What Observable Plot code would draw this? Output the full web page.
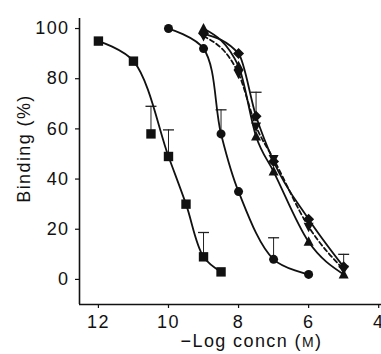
<!DOCTYPE html>
<html><head><meta charset="utf-8">
<script src="https://cdn.jsdelivr.net/npm/d3@7"></script>
<script src="https://cdn.jsdelivr.net/npm/@observablehq/plot@0.6"></script>
<style>body{margin:0;background:#fff}</style>
</head><body><div id="chart"></div>
<script>
// -log concentration (x) and % binding (y)
const squareX = [12, 11, 10, 9.5, 9, 8.5];
const squareY = [95, 87, 49, 30, 9, 3];
const squareOutX = [10.5];
const squareOutY = [58];
const circleX = [10, 9, 8.5, 8, 7, 6];
const circleY = [100, 92, 58, 35, 8, 2];
const groupX = [9, 8, 7.5, 7, 6, 5];
const diamondY = [98, 90, 65, 47, 24, 5];
const triangleY = [100, 85, 57, 43, 15, 2];
const invTriangleY = [97, 82, 61, 48, 21, 4];
// upward error bars
const errX = [10.5, 10, 9, 8.5, 7, 7.5, 5];
const errLow = [58, 49, 9, 58, 8, 65, 5];
const errHigh = [69, 59.6, 18.7, 67.6, 16.6, 74.6, 10];
const xTicks = [12, 10, 8, 6, 4];
const yTicks = [0, 20, 40, 60, 80, 100];
const xDomain = [12.54, 3.92];
const yDomain = [-10, 104];
const yLabel = "Binding (%)";
const xLabel = "\u2212Log concn (M)";

const toPts = (xs, ys) => xs.map((x, i) => ({x, y: ys[i]}));
const squares = toPts(squareX, squareY);
const squareOut = toPts(squareOutX, squareOutY);
const circles = toPts(circleX, circleY);
const diamonds = toPts(groupX, diamondY);
const triangles = toPts(groupX, triangleY);
const invTriangles = toPts(groupX, invTriangleY);
const errs = errX.map((x, i) => ({x, lo: errLow[i], hi: errHigh[i]}));

const rOf = size => Math.sqrt(size / Math.PI);
const symSquare = {draw(c, s) { const r = rOf(s); c.rect(-r, -r, 2 * r, 2 * r); }};
const symTri = {draw(c, s) { const r = rOf(s); c.moveTo(0, -1.1 * r); c.lineTo(r, 0.8 * r); c.lineTo(-r, 0.8 * r); c.closePath(); }};
const symTriDown = {draw(c, s) { const r = rOf(s); c.moveTo(0, 1.1 * r); c.lineTo(r, -0.8 * r); c.lineTo(-r, -0.8 * r); c.closePath(); }};
const symDiamond = {draw(c, s) { const r = rOf(s); c.moveTo(0, -r); c.lineTo(r, 0); c.lineTo(0, r); c.lineTo(-r, 0); c.closePath(); }};
const symCap = {draw(c, s) { const r = rOf(s); c.moveTo(-r, 0); c.lineTo(r, 0); }};

const lineOpts = {x: "x", y: "y", curve: "catmull-rom", stroke: "#111", strokeWidth: 1.8};
const groupLine = {...lineOpts, curve: "monotone-x"};

const chart = Plot.plot({
  width: 381,
  height: 354,
  marginLeft: 79,
  marginRight: 0,
  marginTop: 18,
  marginBottom: 50,
  style: {fontFamily: "'Liberation Sans', Arial, Helvetica, sans-serif", fontSize: "18px", letterSpacing: "1.4px", color: "#111", background: "#fff"},
  x: {domain: xDomain},
  y: {domain: yDomain},
  marks: [
    Plot.ruleX([xDomain[0]], {stroke: "#111", strokeWidth: 1.6}),
    Plot.ruleY([yDomain[0]], {stroke: "#111", strokeWidth: 1.6}),
    Plot.axisX({ticks: xTicks, tickSize: 4, tickPadding: 7, label: null, tickFormat: d => String(d), strokeWidth: 1.2}),
    Plot.axisY({ticks: yTicks, tickSize: 4, tickPadding: 6, label: null, strokeWidth: 1.2}),
    Plot.ruleX(errs, {x: "x", y1: "lo", y2: "hi", stroke: "#222", strokeWidth: 1}),
    Plot.dot(errs, {x: "x", y: "hi", symbol: symCap, r: 5.5, stroke: "#222", strokeWidth: 1.3, fill: "none"}),
    Plot.line(squares, lineOpts),
    Plot.line(circles, lineOpts),
    Plot.line(diamonds, groupLine),
    Plot.line(triangles, groupLine),
    Plot.line(invTriangles, {...groupLine, strokeDasharray: "4.5,3"}),
    Plot.dot(squares, {x: "x", y: "y", symbol: symSquare, r: 4.7, fill: "#111"}),
    Plot.dot(squareOut, {x: "x", y: "y", symbol: symSquare, r: 4.7, fill: "#111"}),
    Plot.dot(circles, {x: "x", y: "y", symbol: "circle", r: 4.5, fill: "#111"}),
    Plot.dot(diamonds, {x: "x", y: "y", symbol: symDiamond, r: 5.5, fill: "#111"}),
    Plot.dot(triangles, {x: "x", y: "y", symbol: symTri, r: 5, fill: "#111"}),
    Plot.dot(invTriangles, {x: "x", y: "y", symbol: symTriDown, r: 5, fill: "#111"}),
    Plot.text([yLabel], {text: d => d, frameAnchor: "left", rotate: -90, dx: -55, dy: -13, textAnchor: "middle", lineAnchor: "middle", fill: "#111"}),
    Plot.text([xLabel], {text: d => d, frameAnchor: "bottom", dx: 21, dy: 37, textAnchor: "middle", lineAnchor: "middle", fill: "#111"})
  ]
});
document.getElementById("chart").appendChild(chart);

// render the molar "M" as a small capital
d3.select(chart).selectAll("text").each(function () {
  if (this.textContent === xLabel) {
    const t = d3.select(this);
    t.text(null);
    t.append("tspan").text("\u2212Log concn (");
    t.append("tspan").attr("font-size", "14px").text("M");
    t.append("tspan").text(")");
  }
});
</script>
</body></html>
